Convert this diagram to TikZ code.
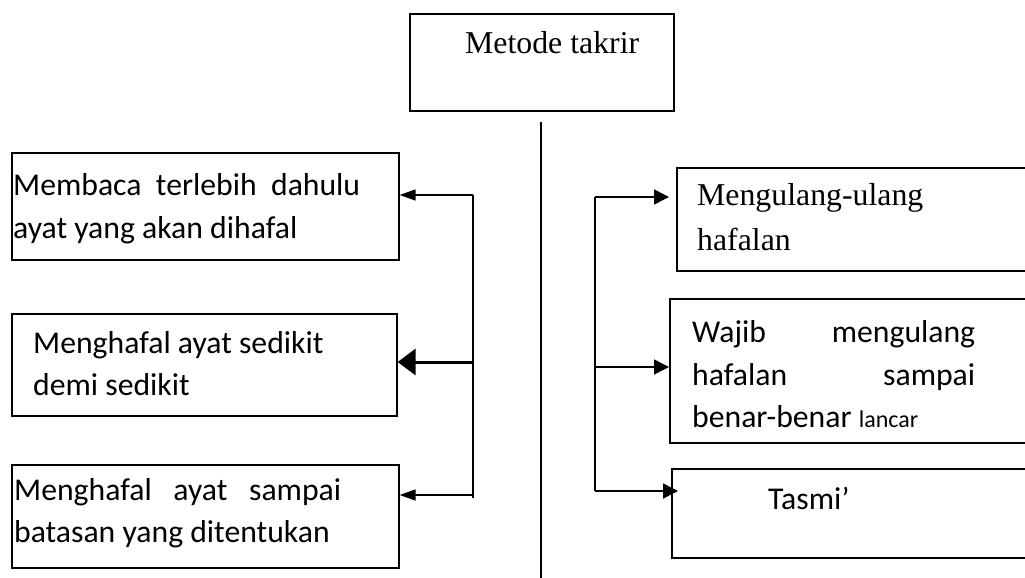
\documentclass[tikz,border=0pt]{standalone}
\usepackage{fontspec}
\setmainfont{Liberation Serif}
\newfontfamily\calfont{Carlito}
\usetikzlibrary{arrows.meta}
\begin{document}
\begin{tikzpicture}[x=1pt,y=-1pt,
  box/.style={draw, line width=1.6pt, rectangle, inner sep=0pt, anchor=north west},
  txt/.style={anchor=base west, inner sep=0pt, font=\calfont\fontsize{31.7}{38}\selectfont},
  stxt/.style={anchor=base west, inner sep=0pt, font=\fontsize{31.8}{38}\selectfont},
  link/.style={line width=1.5pt},
  tipL/.style={-{Triangle[length=16pt,width=11pt]}, line width=1.5pt},
  tipThick/.style={-{Triangle[length=18pt,width=26pt]}, line width=3pt},
  tipR/.style={-{Triangle[length=15pt,width=15pt]}, line width=1.5pt}]
\useasboundingbox (0,0) rectangle (1025,578);
\clip (0,0) rectangle (1025,578);
\fill[white] (0,0) rectangle (1025,578);

% boxes
\node[box, minimum width=264pt, minimum height=97pt] (T) at (409,13) {};
\node[box, minimum width=387pt, minimum height=107pt] (L1) at (11,152) {};
\node[box, minimum width=385pt, minimum height=102pt] (L2) at (11,313) {};
\node[box, minimum width=387pt, minimum height=103pt] (L3) at (11,464) {};
\node[box, minimum width=370pt, minimum height=103pt] (R1) at (676,167) {};
\node[box, minimum width=370pt, minimum height=144pt] (R2) at (669,298) {};
\node[box, minimum width=370pt, minimum height=89pt] (R3) at (671,468) {};

% texts
\node[stxt] (tT) at (465,53) {Metode takrir};
\node[txt] (tL1a) at (13,195) {\makebox[347pt][l]{Membaca\hfill terlebih\hfill dahulu}};
\node[txt] (tL1b) at (13,238) {ayat yang akan dihafal};
\node[txt] (tL2a) at (33,353) {Menghafal ayat sedikit};
\node[txt] (tL2b) at (33,395) {demi sedikit};
\node[txt] (tL3a) at (14,500) {\makebox[327pt][l]{Menghafal\hfill ayat\hfill sampai}};
\node[txt] (tL3b) at (14,542) {batasan yang ditentukan};
\node[stxt] (tR1a) at (697,205) {Mengulang-ulang};
\node[stxt] (tR1b) at (697,250) {hafalan};
\node[txt] (tR2a) at (692,342) {\makebox[283pt][l]{Wajib\hfill mengulang}};
\node[txt] (tR2b) at (692,385) {\makebox[283pt][l]{hafalan\hfill sampai}};
\node[txt] (tR2c) at (692,427) {benar-benar {\fontsize{24}{28}\selectfont lancar}};
\node[txt] (tR3) at (768,509) {Tasmi’};

% centre line
\coordinate (cTop) at (541,122);
\coordinate (cBot) at (541,580);
\draw[link] (cTop) -- (cBot);

% left bracket
\coordinate (lbT) at (473,195);
\coordinate (lb2) at (473,362);
\coordinate (lb3) at (473,495);
\coordinate (lbB) at (473,498);
\draw[link] (lbT) -- (lbB);
\draw[tipL] (lbT) -- (L1.east |- lbT);
\draw[tipThick] (lb2) -- (L2.east |- lb2);
\draw[tipL] (lb3) -- (L3.east |- lb3);

% right bracket
\coordinate (rbT) at (595,197);
\coordinate (rb2) at (595,367);
\coordinate (rbB) at (595,491);
\draw[link] (rbT) -- (rbB);
\draw[tipR, shorten >=7pt] (rbT) -- (R1.west |- rbT);
\draw[tipR] (rb2) -- (R2.west |- rb2);
\draw[tipR, shorten >=-7pt] (rbB) -- (R3.west |- rbB);
\end{tikzpicture}
\end{document}
